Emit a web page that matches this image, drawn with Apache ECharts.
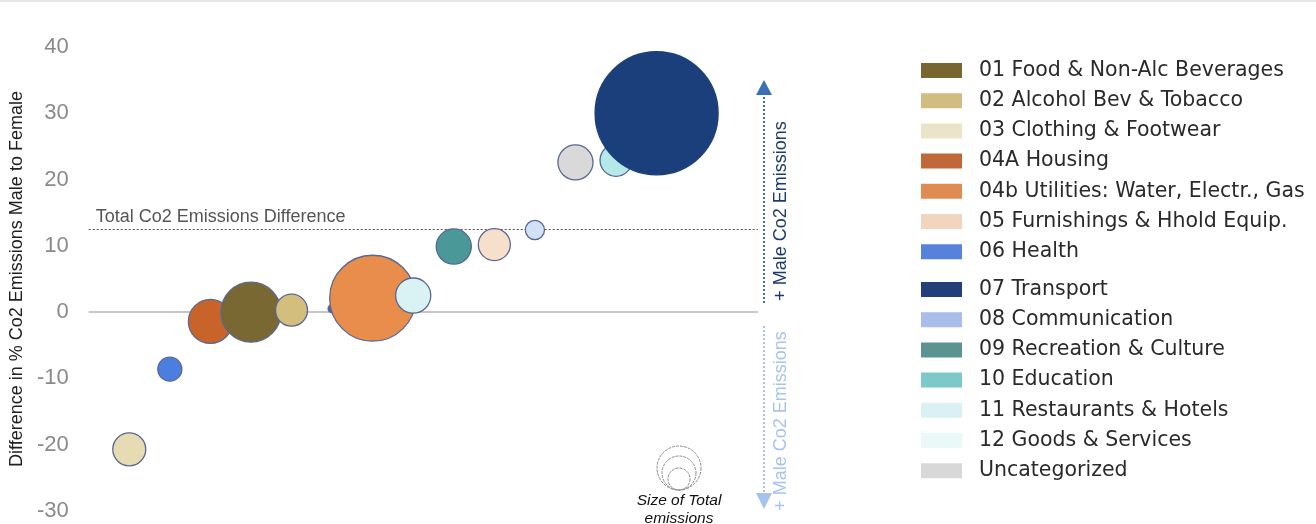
<!DOCTYPE html>
<html>
<head>
	<meta charset="UTF-8">
	<title>co2 bubbles</title>
	<style>
		html,body{margin:0;padding:0;background:#fff;}
		#mychart{width:1316px;height:524px;}
	</style>
</head>
<body>
	<div id="mychart"></div>
<script type="text/javascript" src="https://cdn.jsdelivr.net/npm/echarts@6/dist/echarts.min.js"></script>
<script type="text/javascript">
	// categories (legend order)
	var categories = ['01 Food & Non-Alc Beverages','02 Alcohol Bev & Tobacco','03 Clothing & Footwear','04A Housing',
		'04b Utilities: Water, Electr., Gas','05 Furnishings & Hhold Equip.','06 Health',
		'07 Transport','08 Communication','09 Recreation & Culture','10 Education','11 Restaurants & Hotels',
		'12 Goods & Services','Uncategorized'];
	var rank  = [4, 5, 1, 3, 7, 10, 2, 14, 11, 9, 13, 8, 6, 12];               // x: order by difference
	var diff  = [0.0, 0.3, -20.7, -1.4, 2.1, 10.2, -8.6, 30.0, 12.4, 9.9, 22.9, 2.5, 0.5, 22.6]; // y: % difference
	var total = [225, 64, 68, 121, 462, 64, 36, 946, 23, 77, 64, 77, 4, 77];  // size of total emissions
	var totalDiff = 12.5;
	var yTicks = [-30, -20, -10, 0, 10, 20, 30, 40];

	var legendColor = ['#786530','#d2bd80','#ece4ca','#c1683a','#de8c52','#f1d5be','#5682dc',
		'#233f7a','#a8bde9','#5b9292','#7dc8c8','#dbf0f2','#ebf8f8','#d8d8d8'];
	var bubbleColor = ['#7a6832','#d4be7e','#e6dcb4','#c8642a','#e88d4b','#f6dfcb','#4a7fe0',
		'#1a3f7a','#d3e1f8','#4a9898','#b4e8e9','#d9f3f5','#3a66c0','#d9d9d9'];

	var myChart = echarts.init(document.getElementById('mychart'));

	var series = [];
	for (var i = 0; i < categories.length; i++) {
		series.push({
			name: categories[i],
			type: 'scatter',
			color: legendColor[i],
			z: 3 + rank[i],
			symbolSize: function (v) { return Math.sqrt(v[2]) * 4; },
			itemStyle: {
				color: bubbleColor[i],
				borderColor: i === 7 ? '#1a3f7a' : '#5a6890',
				borderWidth: 1.3,
				opacity: 1
			},
			emphasis: {disabled: true},
			data: [[rank[i], diff[i], total[i]]]
		});
	}
	// reference lines
	series.push({
		type: 'scatter',
		data: [],
		z: 1,
		silent: true,
		markLine: {
			symbol: 'none',
			silent: true,
			animation: false,
			data: [
				{
					yAxis: 0,
					lineStyle: {color: '#c6c6c6', width: 2, type: 'solid'},
					label: {show: false}
				},
				{
					yAxis: totalDiff,
					lineStyle: {color: '#555', width: 1, type: [2, 2]},
					label: {
						show: true,
						position: 'insideStartTop',
						formatter: 'Total Co2 Emissions Difference',
						color: '#555',
						fontSize: 18,
						fontFamily: 'Liberation Sans',
						distance: [7, 3]
					}
				}
			]
		}
	});

	function legendItems(from, to) {
		var arr = [];
		for (var k = from; k < to; k++) {
			arr.push({name: categories[k], itemStyle: {color: legendColor[k], borderWidth: 0}});
		}
		return arr;
	}
	var legendText = {
		fontSize: 20.5,
		fontFamily: 'DejaVu Sans',
		color: '#2a2a2a',
		lineHeight: 20,
		padding: [0, 0, 0, 12]
	};

	var option = {
		animation: false,
		grid: {left: 88, right: 558, top: 47, bottom: 13},
		xAxis: {
			type: 'value',
			min: 0,
			max: 16.5,
			show: false
		},
		yAxis: {
			type: 'value',
			min: yTicks[0],
			max: yTicks[yTicks.length - 1],
			interval: 10,
			name: 'Difference in % Co2 Emissions Male to Female',
			nameLocation: 'middle',
			nameGap: 59,
			nameTextStyle: {color: '#222', fontSize: 18, fontFamily: 'Liberation Sans'},
			axisLine: {show: false},
			axisTick: {show: false},
			splitLine: {show: false},
			axisLabel: {color: '#8a8a8a', fontSize: 22, fontFamily: 'Liberation Sans', margin: 20}
		},
		legend: [
			{
				orient: 'vertical', left: 921, top: 60, padding: 0,
				icon: 'rect', itemWidth: 41, itemHeight: 15, itemGap: 9.2,
				selectedMode: false,
				textStyle: legendText,
				data: legendItems(0, 7)
			},
			{
				orient: 'vertical', left: 921, top: 279, padding: 0,
				icon: 'rect', itemWidth: 41, itemHeight: 15, itemGap: 9.2,
				selectedMode: false,
				textStyle: legendText,
				data: legendItems(7, 14)
			}
		],
		graphic: [
			// top border strip
			{type: 'rect', shape: {x: 0, y: 0, width: 1316, height: 2}, style: {fill: '#e6e6e6'}, silent: true},
			// up arrow
			{type: 'line', shape: {x1: 764, y1: 303, x2: 764, y2: 94}, style: {stroke: '#3a70b8', lineWidth: 2, lineDash: [2, 2]}, silent: true},
			{type: 'polygon', shape: {points: [[764, 80], [756, 95], [772, 95]]}, style: {fill: '#3a70b8'}, silent: true},
			{type: 'text', x: 781, y: 211, rotation: Math.PI / 2,
				style: {text: '+ Male Co2 Emissions', fill: '#1f3a6c', fontSize: 18, fontFamily: 'Liberation Sans', align: 'center', verticalAlign: 'middle'}, silent: true},
			// down arrow
			{type: 'line', shape: {x1: 764, y1: 326, x2: 764, y2: 493}, style: {stroke: '#a6c2ee', lineWidth: 2, lineDash: [2, 2]}, silent: true},
			{type: 'polygon', shape: {points: [[764, 509], [756, 493], [772, 493]]}, style: {fill: '#a6c2ee'}, silent: true},
			{type: 'text', x: 781, y: 421, rotation: Math.PI / 2,
				style: {text: '+ Male Co2 Emissions', fill: '#a9c3ee', fontSize: 18, fontFamily: 'Liberation Sans', align: 'center', verticalAlign: 'middle'}, silent: true},
			// size key
			{type: 'circle', shape: {cx: 679, cy: 468, r: 22}, style: {fill: 'none', stroke: '#8a8a8a', lineWidth: 1, lineDash: [3, 1]}, silent: true},
			{type: 'circle', shape: {cx: 679, cy: 473, r: 17}, style: {fill: 'none', stroke: '#8a8a8a', lineWidth: 1, lineDash: [3, 1]}, silent: true},
			{type: 'circle', shape: {cx: 679, cy: 479, r: 11}, style: {fill: 'none', stroke: '#8a8a8a', lineWidth: 1, lineDash: [3, 1]}, silent: true},
			{type: 'text', x: 679, y: 510,
				style: {text: 'Size of Total\nemissions', fill: '#111', fontSize: 15.5, fontStyle: 'italic', fontFamily: 'Liberation Sans', align: 'center', verticalAlign: 'middle', lineHeight: 18}, silent: true}
		],
		series: series
	};
	myChart.setOption(option);
	window.onresize = myChart.resize;
</script>
</body>
</html>
